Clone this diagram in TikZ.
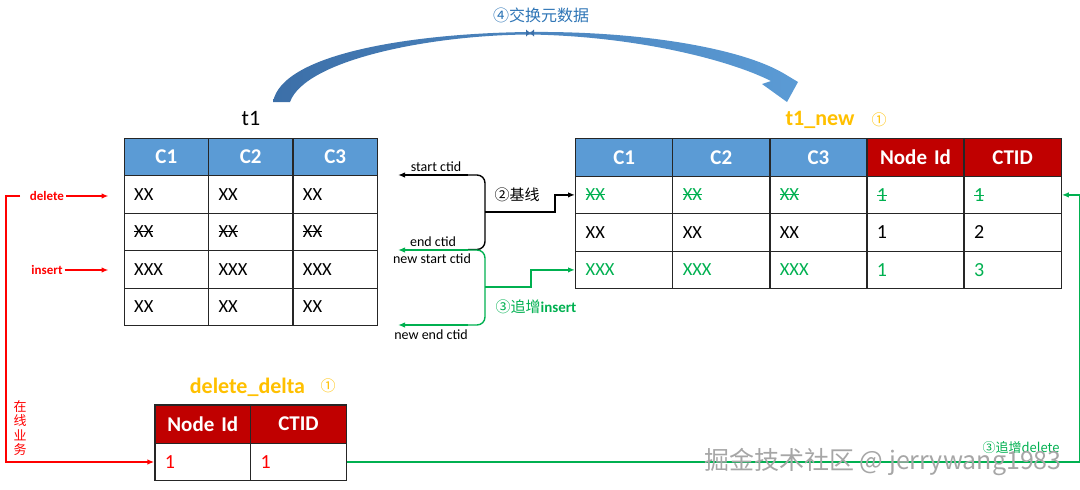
\documentclass[tikz,border=0pt]{standalone}
\usepackage{fontspec}
\setmainfont{Carlito}
\newfontfamily\cjk{Noto Sans CJK SC}
\usetikzlibrary{arrows.meta,calc}
\definecolor{hblue}{HTML}{5B9BD5}
\definecolor{hred}{HTML}{C00000}
\definecolor{torange}{HTML}{FFC000}
\definecolor{tgreen}{HTML}{00B050}
\definecolor{tred}{HTML}{FF0000}
\definecolor{arcdark}{HTML}{3C6FA8}
\definecolor{arclight}{HTML}{5B9BD5}
\definecolor{lblue}{HTML}{2E75B6}
\newcommand\strk[1]{\setbox0\hbox{#1}\rlap{\rule[0.3em]{\wd0}{0.8pt}}\box0}
\begin{document}
\begin{tikzpicture}[x=1pt,y=-1pt,
  tcell/.style={draw=black!85, line width=1.3pt, anchor=north west, inner xsep=10pt, inner ysep=0pt, align=left},
  thead/.style={tcell, align=center, text=white, font=\fontsize{21}{21}\selectfont\bfseries},
  tbody/.style={tcell, font=\fontsize{18.5}{20}\selectfont},
  tnum/.style={tcell, font=\fontsize{20}{22}\selectfont},
  conn/.style={line width=1.4pt},
  arr/.style={-{Latex[length=7pt,width=5.5pt]}},
  small/.style={font=\fontsize{14}{14}\selectfont, inner sep=0pt},
]
\useasboundingbox (0,0) rectangle (1080,490);

% ---------- top arc ----------
\shade[left color=arcdark, right color=arclight]
 (273,102) .. controls (282,52) and (420,33) .. (530,32)
 .. controls (640,31) and (740,48) .. (783,73)
 -- (798,82) -- (787,102) -- (762,84) -- (771,81)
 .. controls (725,58) and (630,36) .. (530,34.5)
 .. controls (430,35) and (305,60) .. (290,102) -- cycle;
\fill[arcdark] (526,29.5) -- (534,36.5) -- (534,29.5) -- (526,36.5) -- cycle;
\node[text=lblue, font=\cjk\fontsize{16}{16}\selectfont] (swap) at (541,15) {④交换元数据};

% ---------- t1 ----------
\node[font=\fontsize{22}{22}\selectfont] (t1lbl) at (251,118) {t1};
\foreach \c/\t in {1/C1,2/C2,3/C3}
  \node[thead, fill=hblue, text width=64.4pt, minimum height=37.5pt] (t1-0-\c) at ({123.5+(\c-1)*84.4},137.5) {\t};
\foreach \c in {1,2,3} {
  \node[tbody, text width=64.4pt, minimum height=37.5pt] (t1-1-\c) at ({123.5+(\c-1)*84.4},175) {XX};
  \node[tbody, text width=64.4pt, minimum height=37.5pt] (t1-2-\c) at ({123.5+(\c-1)*84.4},212.5) {\strk{XX}};
  \node[tbody, text width=64.4pt, minimum height=37.5pt] (t1-3-\c) at ({123.5+(\c-1)*84.4},250) {XXX};
  \node[tbody, text width=64.4pt, minimum height=37.5pt] (t1-4-\c) at ({123.5+(\c-1)*84.4},287.5) {XX};
}

% ---------- t1_new ----------
\node[text=torange, font=\fontsize{22}{22}\selectfont\bfseries] (t1nlbl) at (820,120) {t1\_new};
\node[text=torange, font=\cjk\fontsize{15}{15}\selectfont] (t1ncirc) at (879,120) {①};
\foreach \c/\t/\f in {1/C1/hblue,2/C2/hblue,3/C3/hblue,4/Node Id/hred,5/CTID/hred}
  \node[thead, fill=\f, text width=77.1pt, minimum height=37.5pt] (n-0-\c) at ({575+(\c-1)*97.1},138) {\t};
\foreach \c in {1,2,3} {
  \node[tbody, text=tgreen, text width=77.1pt, minimum height=37.5pt] (n-1-\c) at ({575+(\c-1)*97.1},175.5) {\strk{XX}};
  \node[tbody, text width=77.1pt, minimum height=37.5pt] (n-2-\c) at ({575+(\c-1)*97.1},213) {XX};
  \node[tbody, text=tgreen, text width=77.1pt, minimum height=37.5pt] (n-3-\c) at ({575+(\c-1)*97.1},250.5) {XXX};
}
\foreach \c/\p/\q/\r in {4/1/1/1,5/1/2/3} {
  \node[tnum, text=tgreen, text width=77.1pt, minimum height=37.5pt] (n-1-\c) at ({575+(\c-1)*97.1},175.5) {\strk{\p}};
  \node[tnum, text width=77.1pt, minimum height=37.5pt] (n-2-\c) at ({575+(\c-1)*97.1},213) {\q};
  \node[tnum, text=tgreen, text width=77.1pt, minimum height=37.5pt] (n-3-\c) at ({575+(\c-1)*97.1},250.5) {\r};
}

% ---------- delete_delta ----------
\node[text=torange, font=\fontsize{22}{22}\selectfont\bfseries] (ddlbl) at (247.5,387) {delete\_delta};
\node[text=torange, font=\cjk\fontsize{15}{15}\selectfont] (ddcirc) at (328,386) {①};
\foreach \c/\t in {1/Node Id,2/CTID}
  \node[thead, fill=hred, text width=75.7pt, minimum height=38.4pt] (dd-0-\c) at ({154.3+(\c-1)*95.7},404.3) {\t};
\foreach \c in {1,2}
  \node[tnum, text=tred, text width=75.7pt, minimum height=37.3pt] (dd-1-\c) at ({154.3+(\c-1)*95.7},442.7) {1};

% ---------- left red arrows ----------
\node[text=tred, font=\fontsize{13}{13}\selectfont\bfseries, inner sep=0pt] (del) at (47,196) {delete};
\node[text=tred, font=\fontsize{13}{13}\selectfont\bfseries, inner sep=0pt] (ins) at (47,270) {insert};
\draw[conn, tred, arr, shorten <=2pt, shorten >=15pt] (del.east) -- (del.east -| t1-1-1.west);
\draw[conn, tred, arr, shorten <=2pt, shorten >=15pt] (ins.east) -- (ins.east -| t1-3-1.west);
\coordinate (onl) at (20,196);
\draw[conn, tred, arr] (onl) -- ++(-14,0) |- (dd-1-1.west);
\node[text=tred, font=\cjk\fontsize{13}{14.5}\selectfont, align=center, inner sep=0pt] (online) at (20,428) {在\\线\\业\\务};

% ---------- middle brackets ----------
\coordinate (bt) at (468,175);
\coordinate (bb) at (468,249.5);
\coordinate (gt) at (468,250);
\coordinate (gb) at (468,325);
\coordinate (st) at (398,175);
\coordinate (et) at (398,250);
\coordinate (ne) at (398,325);
\node[small] (sct) at (436,167) {start ctid};
\node[small] (ect) at (433,242) {end ctid};
\node[small] (nsct) at (432,259) {new start ctid};
\node[small] (nect) at (431,335) {new end ctid};
\node[font=\cjk\fontsize{15}{15}\selectfont, inner sep=0pt] (base) at (517,195) {②基线};
\node[text=tgreen, inner sep=0pt] (addins) at (536,307) {\cjk\fontsize{15}{15}\selectfont ③追增\fontsize{15}{15}\selectfont\bfseries\rmfamily insert};

\draw[conn, arr] (bt) -- (st);
\draw[conn, rounded corners=8pt] (bt) -| (485,212) |- (bb);
\draw[conn, arr] (485,212) -- (555,212) |- (n-1-1.west);
\draw[conn, tgreen, arr] (gt) -- (et);
\draw[conn, tgreen, arr] (gb) -- (ne);
\draw[conn, tgreen, rounded corners=8pt] (gt) -| (485,287) |- (gb);
\draw[conn, tgreen, arr] (485,287) -- (531,287) |- (n-3-1.west);

% ---------- bottom green ----------
\draw[conn, tgreen, arr] (dd-1-2.east) -| ($(n-1-5.east)+(17.5,0)$) -- (n-1-5.east);
\node[text=tgreen, font=\cjk\fontsize{13}{13}\selectfont, inner sep=0pt] (adddel) at (1021,448) {③追增delete};

% ---------- watermark ----------
\node[text=gray!70, font=\cjk\fontsize{25}{25}\selectfont, inner sep=0pt] (wm) at (883,462) {掘金技术社区 @ jerrywang1983};
\end{tikzpicture}
\end{document}
